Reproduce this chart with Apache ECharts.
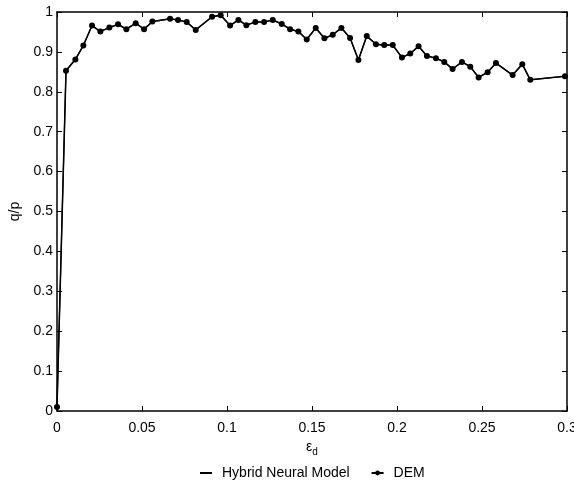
<!DOCTYPE html>
<html><head><meta charset="utf-8">
<script src="https://cdn.jsdelivr.net/npm/echarts@6/dist/echarts.min.js"></script>
<style>html,body{margin:0;padding:0;background:#fff}#c{width:574px;height:486px}</style>
</head><body><div id="c"></div>
<script>
const strain = [0, 0.0053, 0.0108, 0.0155, 0.0206, 0.0255, 0.0308, 0.0359, 0.0408, 0.0463, 0.0512, 0.0561, 0.0665, 0.0712, 0.0763, 0.0816, 0.0912, 0.0963, 0.1018, 0.1067, 0.1114, 0.1167, 0.1218, 0.1269, 0.1322, 0.1371, 0.1420, 0.1469, 0.1522, 0.1573, 0.1622, 0.1673, 0.1724, 0.1773, 0.1822, 0.1876, 0.1925, 0.1975, 0.2029, 0.2078, 0.2127, 0.2176, 0.2229, 0.2278, 0.2327, 0.2382, 0.2431, 0.2480, 0.2533, 0.2582, 0.2680, 0.2737, 0.2784, 0.2988];
const demRatio = [0.01, 0.853, 0.881, 0.916, 0.966, 0.951, 0.961, 0.969, 0.957, 0.972, 0.957, 0.976, 0.983, 0.980, 0.975, 0.955, 0.988, 0.992, 0.966, 0.980, 0.967, 0.975, 0.975, 0.980, 0.970, 0.957, 0.951, 0.931, 0.960, 0.934, 0.943, 0.960, 0.935, 0.880, 0.940, 0.919, 0.917, 0.917, 0.886, 0.896, 0.914, 0.890, 0.884, 0.875, 0.857, 0.875, 0.863, 0.836, 0.849, 0.872, 0.842, 0.869, 0.830, 0.839];
const hybridRatio = demRatio;
const xTicks = [0, 0.05, 0.1, 0.15, 0.2, 0.25, 0.3];
const yTicks = [0, 0.1, 0.2, 0.3, 0.4, 0.5, 0.6, 0.7, 0.8, 0.9, 1];

const font = 'Liberation Sans, Arial, sans-serif';
const pair = (xs, ys) => xs.map((x, i) => [x, ys[i]]);
const axisLine = {show: true, onZero: false, lineStyle: {color: '#000', width: 1.5}};
const tick = {show: true, inside: true, length: 5, lineStyle: {color: '#000', width: 1}};
const fmt = list => v => { const t = list.find(k => Math.abs(k - v) < 1e-9); return t === undefined ? '' : String(t); };
const chart = echarts.init(document.getElementById('c'));
chart.setOption({
  animation: false,
  backgroundColor: '#fff',
  textStyle: {fontFamily: font},
  grid: {left: 57, right: 7, top: 12, bottom: 75, containLabel: false, outerBoundsMode: 'none'},
  legend: {
    top: 461, left: 195, itemGap: 21, itemWidth: 12, itemHeight: 6,
    textStyle: {fontFamily: font, fontSize: 14, color: '#000', padding: [0, 0, 0, 5]},
    data: [
      {name: 'Hybrid Neural Model', icon: 'path://M0,2.1 L12,2.1 L12,3.9 L0,3.9 Z M0,0 L0.01,0 L0.01,0.01 Z M0,6 L0.01,6 L0.01,5.99 Z'},
      {name: 'DEM'}
    ]
  },
  xAxis: [{
    type: 'value', min: 0, max: 0.3, interval: 0.05, position: 'bottom',
    axisLine, axisTick: tick, splitLine: {show: false},
    axisLabel: {color: '#000', fontSize: 14, fontFamily: font, margin: 10, formatter: fmt(xTicks)},
    name: '{e|ε}{d|d}', nameLocation: 'middle', nameGap: 24,
    nameTextStyle: {rich: {
      e: {fontFamily: font, fontSize: 14, color: '#000', lineHeight: 16},
      d: {fontFamily: font, fontSize: 10, color: '#000', padding: [10, 0, 0, 0]}
    }}
  }, {
    type: 'value', min: 0, max: 0.3, interval: 0.05, position: 'top',
    axisLine, axisTick: tick, axisLabel: {show: false}, splitLine: {show: false}
  }],
  yAxis: [{
    type: 'value', min: 0, max: 1, interval: 0.1, position: 'left',
    axisLine, axisTick: tick, splitLine: {show: false},
    axisLabel: {color: '#000', fontSize: 14, fontFamily: font, margin: 4, formatter: fmt(yTicks)},
    name: 'q/p', nameLocation: 'middle', nameGap: 31, nameRotate: 90,
    nameTextStyle: {color: '#000', fontSize: 14, fontFamily: font}
  }, {
    type: 'value', min: 0, max: 1, interval: 0.1, position: 'right',
    axisLine, axisTick: tick, axisLabel: {show: false}, splitLine: {show: false}
  }],
  series: [{
    name: 'Hybrid Neural Model', type: 'line', data: pair(strain, hybridRatio),
    symbol: 'none', lineStyle: {color: '#000', width: 1.2}, itemStyle: {color: '#000'}, z: 2
  }, {
    name: 'DEM', type: 'line', data: pair(strain, demRatio),
    symbol: 'circle', symbolSize: 6, showSymbol: true,
    lineStyle: {color: '#000', width: 1.5}, itemStyle: {color: '#000'}, z: 3
  }]
});
</script></body></html>
